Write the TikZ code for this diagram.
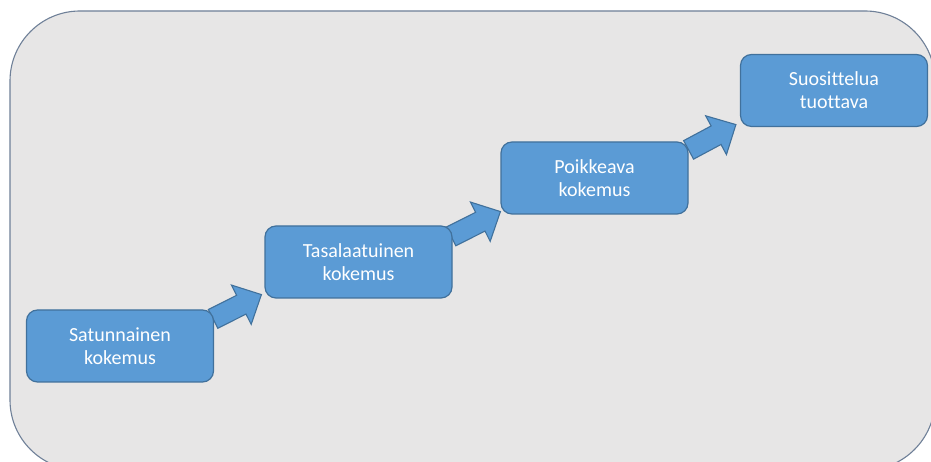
\documentclass[tikz,border=0pt]{standalone}
\usepackage{fontspec}
\setmainfont{Carlito}[RawFeature={-liga;-clig;-dlig}]
\usetikzlibrary{calc}

\definecolor{panelfill}{HTML}{E7E6E6}
\definecolor{panelline}{HTML}{6F8098}
\definecolor{stepfill}{HTML}{5B9BD5}
\definecolor{stepline}{HTML}{41719C}

\pgfdeclarelayer{back}
\pgfdeclarelayer{arrowlayer}
\pgfsetlayers{back,arrowlayer,main}

\tikzset{
  panel/.style={fill=panelfill, draw=panelline, line width=1.1pt, rounded corners=70pt},
  stage/.style={rectangle, rounded corners=11pt, fill=stepfill, draw=stepline,
    line width=1.2pt, minimum width=187pt, minimum height=72pt, inner sep=0pt,
    text=white, align=center, font=\fontsize{20}{23}\selectfont},
  blockarrow/.style={fill=stepfill, draw=stepline, line width=1.1pt, line join=miter}
}

% block arrow from tail point #1 to tip point #2
\newcommand\stagearrow[2]{%
  \coordinate (headbase) at ($(#2)!22.5pt!(#1)$);
  \draw[blockarrow]
    ($(#1)!10.5pt!90:(#2)$) -- ($(headbase)!10.5pt!90:(#2)$)
    -- ($(headbase)!22pt!90:(#2)$) -- (#2)
    -- ($(headbase)!22pt!-90:(#2)$) -- ($(headbase)!10.5pt!-90:(#2)$)
    -- ($(#1)!10.5pt!-90:(#2)$) -- cycle;
}

\begin{document}
\begin{tikzpicture}[x=1pt, y=1pt]
  \useasboundingbox (0,0) rectangle (931,462);

  \begin{pgfonlayer}{back}
    \fill[white] (0,0) rectangle (931,462);
    \draw[panel] (10,-8) rectangle (935,451);
  \end{pgfonlayer}

  \node[stage] (s1) at (120,116)   {Satunnainen\\kokemus};
  \node[stage] (s2) at (358.5,200) {Tasalaatuinen\\kokemus};
  \node[stage] (s3) at (594.5,284) {Poikkeava\\kokemus};
  \node[stage] (s4) at (834,371.5) {Suosittelua\\tuottava};

  \coordinate (a1tail) at ($(s1.north east)+(-1,-9.5)$);
  \coordinate (a1tip)  at ($(s2.south west)+(-3,4)$);
  \coordinate (a2tail) at ($(s2.north east)+(-1.5,-11)$);
  \coordinate (a2tip)  at ($(s3.south west)+(0,3)$);
  \coordinate (a3tail) at ($(s3.north east)+(0,-8.5)$);
  \coordinate (a3tip)  at ($(s4.south west)+(-4,2.5)$);

  \begin{pgfonlayer}{arrowlayer}
    \stagearrow{a1tail}{a1tip}
    \stagearrow{a2tail}{a2tip}
    \stagearrow{a3tail}{a3tip}
  \end{pgfonlayer}
\end{tikzpicture}
\end{document}
